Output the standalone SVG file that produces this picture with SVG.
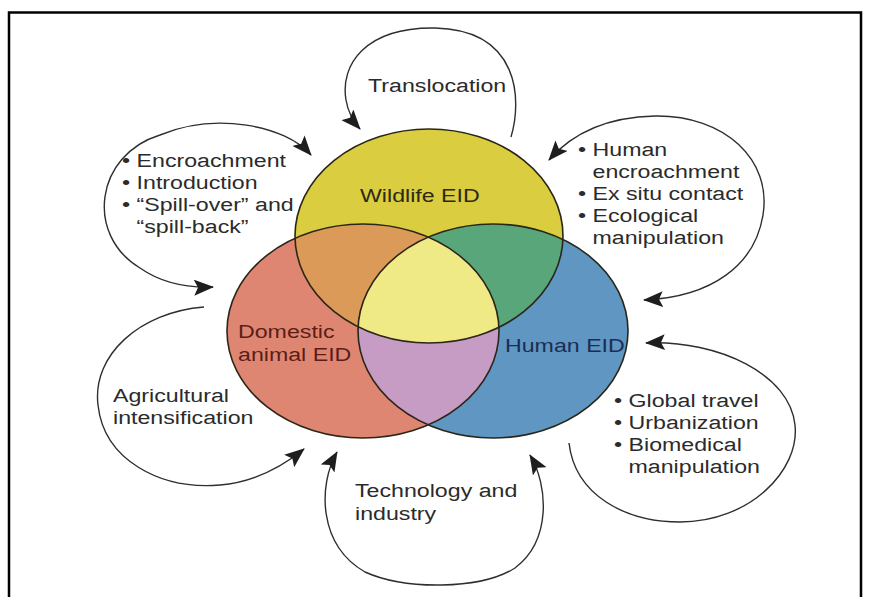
<svg xmlns="http://www.w3.org/2000/svg" width="870" height="597" viewBox="0 0 870 597">
<style>
.t{font-family:"Liberation Sans",Arial,sans-serif;font-size:19px;fill:#2b2b2b}
.lw{fill:#2d2a14}
.ld{fill:#5a1e16}
.lh{fill:#1c2d52}
.outline{fill:none;stroke:#2a2618;stroke-width:1.6}
.conn{fill:none;stroke:#2e2e2e;stroke-width:1.4}
</style>
<defs>
<marker id="ah" viewBox="0 0 20 16" refX="19" refY="8" markerWidth="20" markerHeight="16" markerUnits="userSpaceOnUse" orient="auto-start-reverse">
<path d="M0,0 L20,8 L0,16 L4,8 z" fill="#1e1e1e"/>
</marker>
<clipPath id="cR"><ellipse cx="363" cy="331" rx="136" ry="107"/></clipPath>
<clipPath id="cB"><ellipse cx="493" cy="331" rx="135" ry="107"/></clipPath>
</defs>
<rect x="0" y="0" width="870" height="597" fill="#ffffff"/>
<path d="M9,600 L9,12.5 L861,12.5 L861,600" fill="none" stroke="#000" stroke-width="2.5"/>

<g id="domestic-fill"><ellipse cx="363" cy="331" rx="136" ry="107" fill="#df8672"/></g>
<g id="human-fill"><ellipse cx="493" cy="331" rx="135" ry="107" fill="#5f96c2"/></g>
<g id="wildlife-fill"><ellipse cx="429" cy="236" rx="134" ry="107" fill="#dacd40"/></g>
<g id="overlaps">
<g clip-path="url(#cR)"><ellipse cx="429" cy="236" rx="134" ry="107" fill="#dc9a58"/></g>
<g clip-path="url(#cB)"><ellipse cx="429" cy="236" rx="134" ry="107" fill="#59a67b"/></g>
<g clip-path="url(#cR)"><ellipse cx="493" cy="331" rx="135" ry="107" fill="#c69bc4"/></g>
<g clip-path="url(#cR)"><g clip-path="url(#cB)"><ellipse cx="429" cy="236" rx="134" ry="107" fill="#efea86"/></g></g>
</g>
<g id="outlines">
<ellipse class="outline" cx="363" cy="331" rx="136" ry="107"/>
<ellipse class="outline" cx="493" cy="331" rx="135" ry="107"/>
<ellipse class="outline" cx="429" cy="236" rx="134" ry="107"/>
</g>

<g id="wildlife"><text class="t lw" transform="translate(360 202) scale(1.22 1)">Wildlife EID</text></g>
<g id="domestic"><text class="t ld" transform="translate(238 338) scale(1.22 1)"><tspan x="0" y="0">Domestic</tspan><tspan x="0" y="23">animal EID</tspan></text></g>
<g id="human"><text class="t lh" transform="translate(505 352) scale(1.22 1)">Human EID</text></g>

<g id="connectors">
<path class="conn" d="M511,137 C522,100 520,30 435,28 C365,27 340,65 346,100 C348,112 352,120 360,129" marker-end="url(#ah)"/>
<path class="conn" d="M311,155 C285,125 215,112 160,135 C95,155 85,235 140,268 C160,282 185,288 213,287" marker-start="url(#ah)" marker-end="url(#ah)"/>
<path class="conn" d="M549,160 C575,130 610,117 655,116 C725,115 772,160 763,215 C755,265 712,297 644,300" marker-start="url(#ah)" marker-end="url(#ah)"/>
<path class="conn" d="M569,443 C575,495 625,522 680,522 C750,522 800,470 795,425 C790,375 720,340 646,343" marker-end="url(#ah)"/>
<path class="conn" d="M337,452 C318,485 318,545 365,572 C405,590 480,590 515,568 C552,540 548,485 530,455" marker-start="url(#ah)" marker-end="url(#ah)"/>
<path class="conn" d="M204,307 C140,312 92,355 98,405 C104,460 160,490 220,485 C255,482 283,466 304,449" marker-end="url(#ah)"/>
</g>

<g id="translocation"><text class="t" transform="translate(368 92) scale(1.22 1)">Translocation</text></g>
<g id="encroachment"><text class="t" transform="translate(122 167) scale(1.22 1)"><tspan x="0" y="0">• Encroachment</tspan><tspan x="0" y="22">• Introduction</tspan><tspan x="0" y="44">• “Spill-over” and</tspan><tspan x="11.9" y="66">“spill-back”</tspan></text></g>
<g id="human-encroachment"><text class="t" transform="translate(578 156) scale(1.22 1)"><tspan x="0" y="0">• Human</tspan><tspan x="11.9" y="22">encroachment</tspan><tspan x="0" y="44">• Ex situ contact</tspan><tspan x="0" y="66">• Ecological</tspan><tspan x="11.9" y="88">manipulation</tspan></text></g>
<g id="global-travel"><text class="t" transform="translate(614 407) scale(1.22 1)"><tspan x="0" y="0">• Global travel</tspan><tspan x="0" y="22">• Urbanization</tspan><tspan x="0" y="44">• Biomedical</tspan><tspan x="11.9" y="66">manipulation</tspan></text></g>
<g id="agricultural"><text class="t" transform="translate(113 402) scale(1.22 1)"><tspan x="0" y="0">Agricultural</tspan><tspan x="0" y="22">intensification</tspan></text></g>
<g id="technology"><text class="t" transform="translate(355 497) scale(1.22 1)"><tspan x="0" y="0">Technology and</tspan><tspan x="0" y="23">industry</tspan></text></g>
</svg>
